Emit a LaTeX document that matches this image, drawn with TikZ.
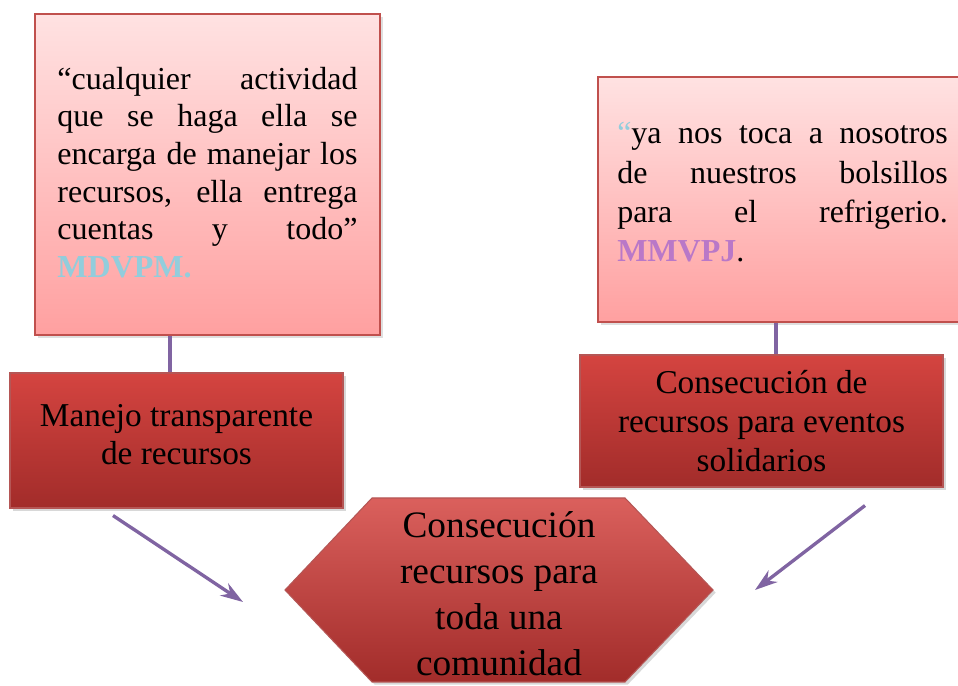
\documentclass[tikz,border=0pt]{standalone}
\usepackage{fontspec}
\setmainfont{Liberation Serif}[BoldFont={Liberation Serif Bold}]
\usetikzlibrary{arrows, arrows.meta, positioning, shadows}
\tikzset{>=stealth}

\definecolor{rojoborde}{RGB}{192,80,77}
\definecolor{rosaclaro}{RGB}{255,226,226}
\definecolor{rosa}{RGB}{255,160,160}
\definecolor{rojo}{RGB}{212,68,64}
\definecolor{rojooscuro}{RGB}{162,44,42}
\definecolor{morado}{RGB}{128,100,162}
\definecolor{azulclaro}{RGB}{146,205,220}
\definecolor{lila}{RGB}{185,120,200}

\tikzset{
  cita/.style={draw=rojoborde, line width=1.5pt, top color=rosaclaro, bottom color=rosa,
    drop shadow={opacity=.25, shadow xshift=2pt, shadow yshift=-2pt}},
  citatexto/.style={align=justify, inner sep=0pt, font=\fontsize{24}{28.3}\selectfont},
  caja/.style={draw=rojooscuro!80, line width=.8pt, top color=rojo, bottom color=rojooscuro,
    drop shadow={opacity=.3, shadow xshift=2pt, shadow yshift=-2pt}},
  cajatexto/.style={align=center, font=\fontsize{25}{28.5}\selectfont},
  conn/.style={draw=morado, line width=3pt},
  flecha/.style={conn, -{Stealth[length=17pt, width=11pt]}, line width=2.5pt},
}

\begin{document}
\begin{tikzpicture}[x=0.75pt, y=0.75pt]
		\clip (0,0) rectangle (958,686);
		\fill[white] (0,0) rectangle (958,686);
		% citas
		\node[cita, minimum width=258.75pt, minimum height=240.75pt] (cita1) at (207.5,511.5) {};
		\node[citatexto, text width=225pt] (texto1) at ([yshift=1.5pt]cita1.center)
		  {\hyphenpenalty=10000 “cualquier actividad\linebreak que se haga ella se\linebreak encarga de manejar los\linebreak recursos, ella entrega\linebreak cuentas y todo”\linebreak {\bfseries\color{azulclaro}MDVPM.}};
		\node[cita, anchor=west, minimum width=285pt, minimum height=183.75pt] (cita2) at (597,486.5) {};
		\node[citatexto, anchor=west, text width=248pt, font=\fontsize{24}{29.3}\selectfont] (texto2) at ([xshift=15pt, yshift=5.5pt]cita2.west)
		  {\hyphenpenalty=10000 {\color{azulclaro}“}ya nos toca a nosotros\linebreak de nuestros bolsillos\linebreak para el refrigerio.\linebreak {\bfseries\color{lila}MMVPJ}.};
		% cajas
		\node[caja, minimum width=249.75pt, minimum height=101.25pt] (manejo) at (176.5,245.5) {};
		\node[cajatexto] (texto3) at ([yshift=4.5pt]manejo.center) {Manejo transparente\\ de recursos};
		\node[caja, minimum width=272.25pt, minimum height=99pt] (eventos) at (761.5,265) {};
		\node[cajatexto, font=\fontsize{25}{29.3}\selectfont] (texto4) at (eventos.center)
		  {Consecución de\\ recursos para eventos\\ solidarios};
		% hexagono
		\coordinate (hexc) at (499,96);
		\draw[draw=rojooscuro!80, line width=.8pt, top color=rojo!85!white, bottom color=rojooscuro,
		  drop shadow={opacity=.3, shadow xshift=2pt, shadow yshift=-2pt}]
		  (hexc) ++(-214,0) -- ++(87,92) -- ++(253,0) -- ++(88,-92) -- ++(-88,-92) -- ++(-253,0) -- cycle;
		\node[align=center, font=\fontsize{28}{34.5}\selectfont] (hex) at ([yshift=-3pt]hexc) {Consecución\\ recursos para\\ toda una\\ comunidad};
		% conectores
		\draw[conn] (cita1.south -| 170,0) -- (manejo.north -| 170,0);
		\draw[conn] (cita2.south -| 776,0) -- (eventos.north -| 776,0);
		\coordinate (a1) at (243,84);
		\coordinate (a2) at (755,96);
		\draw[flecha] (manejo.south -| 113,0) ++(0,-7) -- (a1);
		\draw[flecha] (eventos.south -| 865,0) ++(0,-18) -- (a2);
\end{tikzpicture}
\end{document}
